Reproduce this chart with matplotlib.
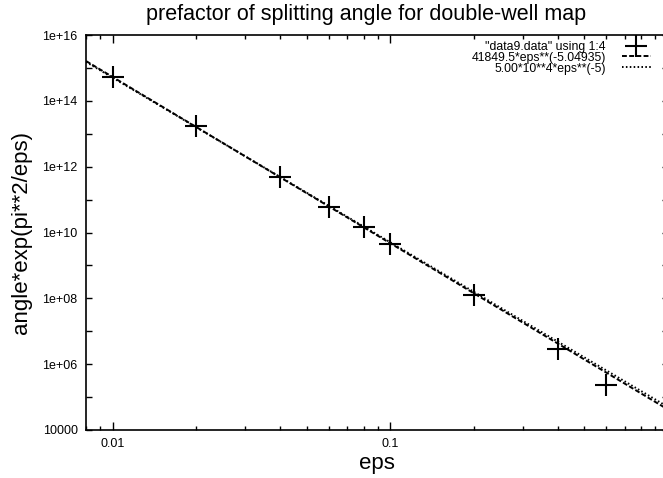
import numpy as np
import matplotlib
matplotlib.use('Agg')
import matplotlib.pyplot as plt
from matplotlib.ticker import FixedLocator, FixedFormatter, NullFormatter

plt.rcParams['font.family'] = ['Liberation Sans', 'DejaVu Sans']

# data
eps = [0.01, 0.02, 0.04, 0.06, 0.08, 0.1, 0.2, 0.4, 0.6]
prefactor = [5.3e14, 1.72e13, 4.8e11, 6.1e10, 1.43e10, 4.5e9, 1.3e8, 2.95e6, 2.3e5]

# fitted curves
fit_a, fit_b = 41849.5, -5.04935
guess_a, guess_b = 5.00e4, -5

ytick_vals = [1e4, 1e6, 1e8, 1e10, 1e12, 1e14, 1e16]
ytick_labels = ['10000', '1e+06', '1e+08', '1e+10', '1e+12', '1e+14', '1e+16']
xtick_vals = [0.01, 0.1]
xtick_labels = ['0.01', '0.1']

fig = plt.figure(figsize=(6.63, 4.78), dpi=100)
ax = fig.add_axes([86/663, 1 - 430/478, (668 - 86)/663, (430 - 35)/478])

x = np.logspace(np.log10(0.008), 0, 200)
ax.plot(eps, prefactor, linestyle='none', marker='+', markersize=16,
        markeredgewidth=1.5, color='black', label='"data9.data" using 1:4')
ax.plot(x, fit_a * x**fit_b, color='black', lw=1.4, dashes=(2.5, 1.2),
        label='41849.5*eps**(-5.04935)')
ax.plot(x, guess_a * x**guess_b, color='black', lw=1.4, dashes=(0.8, 1.2),
        label='5.00*10**4*eps**(-5)')

ax.set_xscale('log')
ax.set_yscale('log')
ax.set_xlim(0.008, 1)
ax.set_ylim(1e4, 1e16)

ax.yaxis.set_major_locator(FixedLocator(ytick_vals))
ax.yaxis.set_major_formatter(FixedFormatter(ytick_labels))
ax.yaxis.set_minor_locator(FixedLocator([1e5, 1e7, 1e9, 1e11, 1e13, 1e15]))
ax.yaxis.set_minor_formatter(NullFormatter())
ax.xaxis.set_major_locator(FixedLocator(xtick_vals))
ax.xaxis.set_major_formatter(FixedFormatter(xtick_labels))
minx = [k * 10.0**p for p in (-3, -2, -1) for k in range(2, 10)]
ax.xaxis.set_minor_locator(FixedLocator([v for v in minx if v >= 0.008]))
ax.xaxis.set_minor_formatter(NullFormatter())

ax.tick_params(which='both', direction='in', top=True, right=True,
               labelsize=9, width=1, color='black')
ax.tick_params(axis='y', which='both', length=4.5, pad=6)
ax.tick_params(axis='x', which='major', length=5.5, pad=6)
ax.tick_params(axis='x', which='minor', length=3)
for s in ax.spines.values():
    s.set_linewidth(1.2)

ax.set_title('prefactor of splitting angle for double-well map',
             fontsize=15.5, pad=11, x=0.481)
ax.set_xlabel('eps', fontsize=16)
ax.set_ylabel('angle*exp(pi**2/eps)', fontsize=16)
ax.yaxis.set_label_coords(-54/582, 0.5)
ax.xaxis.set_label_coords(0.5, -23/395)

leg = ax.legend(loc='upper right', bbox_to_anchor=(651/663, 1 - 41/478),
                bbox_transform=fig.transFigure, frameon=False,
                markerfirst=False, fontsize=8.8, handlelength=2.4,
                handletextpad=1.3, labelspacing=-0.1, borderpad=0,
                borderaxespad=0)

fig.savefig('out.png', dpi=100)
